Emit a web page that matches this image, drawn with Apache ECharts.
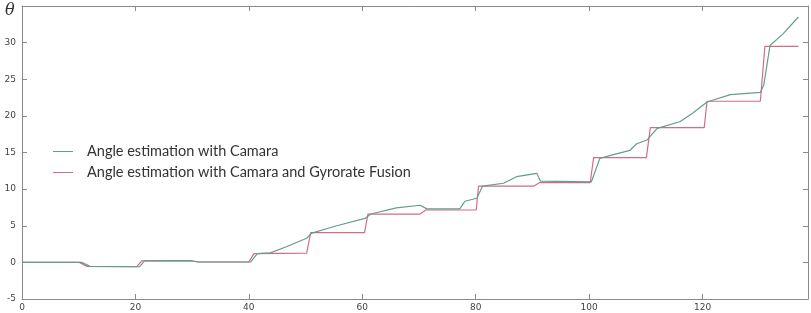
<!DOCTYPE html>
<html>
<head>
<meta charset="utf-8">
<style>
  html, body { margin: 0; padding: 0; background: #fff; }
  #chart { width: 811px; height: 313px; }
</style>
<script src="https://cdn.jsdelivr.net/npm/echarts@6/dist/echarts.min.js"></script>
</head>
<body>
<div id="chart"></div>
<script>
// series, [sample, angle]
let camera_only = [
    [0, 0], [10.5, 0], [12, -0.55], [20.7, -0.6], [21.6, 0.2], [29.5, 0.25], [31.3, 0.05],
    [40.3, 0.05], [41.5, 1.2], [43.8, 1.3], [46.5, 2.1], [50.2, 3.3], [51.1, 4.0], [55.5, 5.0],
    [60.5, 6.0], [61.5, 6.6], [66, 7.45], [70.2, 7.8], [71.4, 7.3], [77.2, 7.3], [78.1, 8.35],
    [80.2, 8.75], [81.2, 10.4], [84.9, 10.8], [87.2, 11.7], [90.8, 12.15], [91.4, 11.1],
    [100.4, 11.0], [101.9, 14.2], [104.3, 14.7], [107.2, 15.3], [108.4, 16.2], [110.2, 16.7],
    [112, 18.3], [116, 19.2], [118.3, 20.4], [120.8, 21.9], [124.9, 22.9], [130.2, 23.2],
    [130.8, 24.2], [131.9, 29.6], [134.2, 31.2], [136.9, 33.5]
];
let camera_gyro = [
    [0, 0], [10.1, 0], [11.5, -0.55], [20.2, -0.6], [21.1, 0.2], [29.5, 0.25], [31, 0.05],
    [40, 0.05], [40.9, 1.2], [50.2, 1.25], [50.9, 4.05], [60.4, 4.05], [61, 6.6], [70.2, 6.6],
    [71.2, 7.15], [80.1, 7.15], [80.5, 10.4], [90.2, 10.4], [91.3, 10.9], [100.2, 10.9],
    [100.8, 14.3], [110.1, 14.3], [110.8, 18.4], [120.3, 18.4], [120.8, 22.0], [130.2, 22.0],
    [131, 29.5], [136.9, 29.5]
];
let series_names = ['Angle estimation with Camara', 'Angle estimation with Camara and Gyrorate Fusion'];
let series_colors = ['#639d8c', '#d46d83'];

let chart = echarts.init(document.getElementById('chart'));

let axis_color = '#8a8a8a';
let base_axis = {
    axisLine: { show: true, onZero: false, lineStyle: { color: axis_color, width: 1 } },
    axisTick: { show: true, inside: true, length: 5, lineStyle: { color: axis_color } },
    splitLine: { show: false }
};

let option = {
    backgroundColor: '#fff',
    animation: false,
    grid: { left: 22, right: 3, top: 6, bottom: 14, containLabel: false },
    legend: {
        orient: 'vertical',
        left: 53,
        top: 144,
        padding: 0,
        icon: 'rect',
        itemWidth: 20,
        itemHeight: 1,
        itemGap: 6,
        textStyle: {
            fontFamily: 'Lato',
            fontSize: 14.5,
            color: '#333',
            lineHeight: 15,
            padding: [0, 0, 0, 9]
        },
        data: series_names
    },
    xAxis: [
        Object.assign({}, base_axis, {
            type: 'value', min: 0, max: 138.6, interval: 20, position: 'bottom',
            axisLabel: { fontSize: 9, color: '#444', margin: 4, fontFamily: 'DejaVu Sans', showMaxLabel: false }
        }),
        Object.assign({}, base_axis, {
            type: 'value', min: 0, max: 138.6, interval: 20, position: 'top',
            axisLabel: { show: false }
        })
    ],
    yAxis: [
        Object.assign({}, base_axis, {
            type: 'value', min: -5, max: 35, interval: 5, position: 'left',
            axisLabel: {
                fontSize: 9, color: '#444', margin: 6, fontFamily: 'DejaVu Sans',
                formatter: function (v) { return v === 35 ? '' : v; }
            }
        }),
        Object.assign({}, base_axis, {
            type: 'value', min: -5, max: 35, interval: 5, position: 'right',
            axisLabel: { show: false }
        })
    ],
    graphic: [{
        type: 'text',
        left: 5,
        top: 3,
        style: {
            text: 'θ',
            font: 'italic 16px "DejaVu Serif"',
            fill: '#333'
        }
    }],
    series: [
        {
            name: series_names[0],
            type: 'line',
            data: camera_only,
            showSymbol: false,
            symbol: 'none',
            lineStyle: { color: series_colors[0], width: 1.2 },
            itemStyle: { color: series_colors[0] },
            z: 3
        },
        {
            name: series_names[1],
            type: 'line',
            data: camera_gyro,
            showSymbol: false,
            symbol: 'none',
            lineStyle: { color: series_colors[1], width: 1.2 },
            itemStyle: { color: series_colors[1] },
            z: 2
        }
    ]
};
chart.setOption(option);
</script>
</body>
</html>
